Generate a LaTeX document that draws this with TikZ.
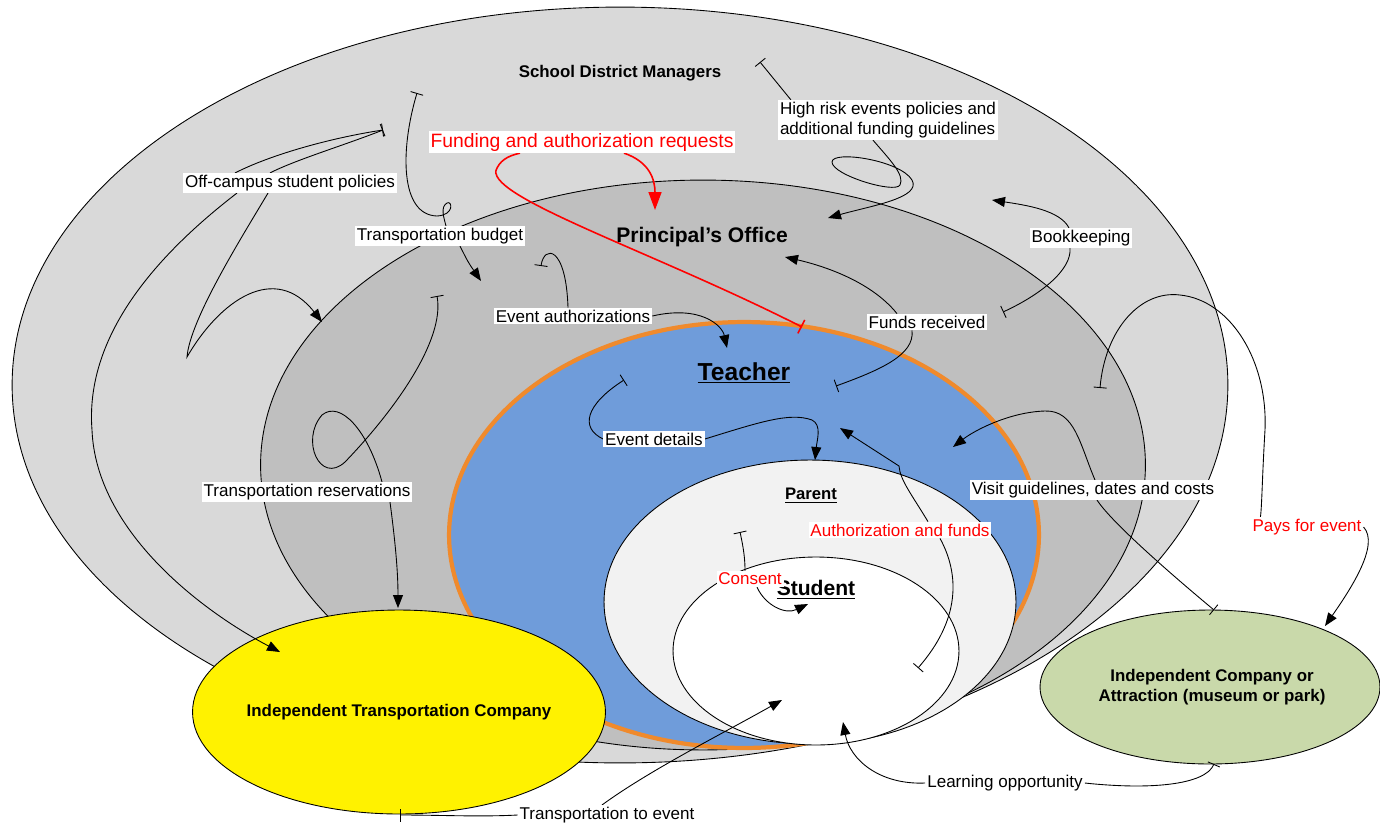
\documentclass[tikz,border=0pt]{standalone}
\usepackage{fontspec}
\setmainfont{Liberation Sans}
\usetikzlibrary{arrows.meta,positioning,calc,shapes.geometric}
\definecolor{distgray}{HTML}{D9D9D9}
\definecolor{pringray}{HTML}{BFBFBF}
\definecolor{teachblue}{HTML}{6F9CDA}
\definecolor{teachline}{HTML}{F08A2C}
\definecolor{parentgray}{HTML}{F2F2F2}
\definecolor{attrgreen}{HTML}{C9D9AA}
\pgfdeclarelayer{zones}
\pgfdeclarelayer{links}
\pgfsetlayers{zones,links,main}
\tikzset{
  zone/.style={ellipse, draw, line width=0.5pt, inner sep=0pt},
  title/.style={font=\bfseries\fontsize{9.6}{11.5}\selectfont, align=center, inner sep=1pt},
  lbl/.style={fill=white, inner sep=1pt, font=\fontsize{9.7}{11.5}\selectfont, align=left},
  redlbl/.style={lbl, text=red},
  tailln/.style={line width=0.5pt, {Bar[width=2.6mm]}-},
  headln/.style={line width=0.5pt, -{Triangle[length=2.6mm,width=2mm]}},
  redtail/.style={red, line width=0.9pt, {Bar[width=3mm]}-},
  redhead/.style={red, line width=0.9pt, -{Triangle[length=3.6mm,width=2.6mm]}}}
\begin{document}
\begin{tikzpicture}[x=0.02cm, y=-0.02cm]
  \useasboundingbox (0,0) rectangle (1380,826);
  \begin{pgfonlayer}{zones}
    \node[zone, fill=distgray, minimum width=24.32cm, minimum height=15.12cm] (district) at (620,385) {};
    \node[zone, fill=pringray, minimum width=17.7cm, minimum height=11.4cm] (office) at (703,465) {};
    \node[zone, draw=teachline, line width=2.4pt, fill=teachblue, minimum width=11.8cm, minimum height=8.52cm] (teacher) at (744,535) {};
    \node[zone, fill=parentgray, minimum width=8.24cm, minimum height=5.68cm] (parent) at (810,602) {};
    \node[zone, fill=white, minimum width=5.72cm, minimum height=3.76cm] (student) at (816,651) {};
    \node[zone, fill=yellow, minimum width=8.26cm, minimum height=4.08cm] (bus) at (399,712) {};
    \node[zone, fill=attrgreen, minimum width=6.8cm, minimum height=3.08cm] (venue) at (1210,687) {};
  \end{pgfonlayer}

  \node[title] (tdistrict) at (620,73) {School District Managers};
  \node[title, font=\bfseries\fontsize{12}{14}\selectfont] (toffice) at (702,237) {Principal’s Office};
  \node[title, font=\bfseries\fontsize{14}{16}\selectfont] (tteacher) at (744,373) {\underline{Teacher}};
  \node[title, font=\bfseries\fontsize{9.5}{11}\selectfont] (tparent) at (811,496) {\underline{Parent}};
  \node[title, font=\bfseries\fontsize{12}{14}\selectfont] (tstudent) at (816,590) {\underline{Student}};
  \node[title] (tbus) at (399,712) {Independent Transportation Company};
  \node[title] (tvenue) at (1212,687) {Independent Company or\\Attraction (museum or park)};

  \node[redlbl, font=\fontsize{11}{13}\selectfont] (lblfund) at (582,142) {Funding and authorization requests};
  \node[lbl] (lblrisk) at (888,120) {High risk events policies and\\additional funding guidelines};
  \node[lbl] (lbloff) at (290,183) {Off-campus student policies};
  \node[lbl] (lbltbud) at (440,236) {Transportation budget};
  \node[lbl] (lblbook) at (1081,238) {Bookkeeping};
  \node[lbl] (lblauth) at (573,316) {Event authorizations};
  \node[lbl] (lblfrec) at (927,322) {Funds received};
  \node[lbl] (lbldet) at (654,439) {Event details};
  \node[lbl] (lblres) at (307,492) {Transportation reservations};
  \node[lbl] (lblvisit) at (1093,490) {Visit guidelines, dates and costs};
  \node[redlbl] (lblaf) at (900,530) {Authorization and funds};
  \node[redlbl] (lblpays) at (1307,527) {Pays for event};
  \node[redlbl] (lblcons) at (750,579) {Consent};
  \node[lbl] (lbllearn) at (1005,783) {Learning opportunity};
  \node[lbl] (lbltrans) at (607,815) {Transportation to event};

  \coordinate (riskS) at (760,62);   \coordinate (riskE) at (828,218);
  \coordinate (offS) at (383,130);   \coordinate (offE) at (280,652);  \coordinate (offE2) at (322,322);
  \coordinate (budS) at (417,93);    \coordinate (budE) at (481,281);
  \coordinate (resS) at (437,296);   \coordinate (resE) at (398,608);
  \coordinate (authS) at (541,266);  \coordinate (authE) at (727,348);
  \coordinate (fundS) at (802,327);  \coordinate (fundE) at (655,210);
  \coordinate (frecS) at (836,386);  \coordinate (frecE) at (785,257);
  \coordinate (bookS) at (1003,312); \coordinate (bookE) at (992,200);
  \coordinate (detS) at (624,380);   \coordinate (detE) at (815,460);
  \coordinate (afS) at (918,668);    \coordinate (afE) at (840,428);
  \coordinate (visS) at (1214,610);  \coordinate (visE) at (953,447);
  \coordinate (payS) at (1100,388);  \coordinate (payE) at (1325,626);
  \coordinate (learnS) at (1214,764); \coordinate (learnE) at (843,722);
  \coordinate (trS) at (400,815);    \coordinate (trE) at (782,700);
  \coordinate (conS) at (740,532);   \coordinate (conE) at (808,604);

  \begin{pgfonlayer}{links}
    \draw[tailln] (riskS) -- ($(lblrisk.north west)+(13,0)$);
    \draw[headln] ($(lblrisk.south)+(-15,0)$) .. controls (890,160) and (905,175) .. (900,185)
      .. controls (895,194) and (832,175) .. (832,162) .. controls (832,150) and (900,160) .. (912,180)
      .. controls (922,198) and (870,206) .. (riskE);
    \draw[tailln] (offS) .. controls (330,138) and (270,155) .. ($(lbloff.north)+(-55,0)$);
    \draw[tailln] (offS) .. controls (345,145) and (295,160) .. ($(lbloff.north)+(-20,0)$);
    \draw[headln] ($(lbloff.south)+(-53,0)$) .. controls (150,260) and (85,340) .. (92,430)
      .. controls (96,530) and (200,610) .. (offE);
    \draw[headln] ($(lbloff.south)+(-22,0)$) .. controls (240,240) and (190,320) .. (187,357)
      .. controls (220,300) and (275,262) .. (offE2);
    \draw[tailln] (budS) .. controls (400,150) and (400,215) .. (437,216)
      .. controls (455,215) and (452,200) .. (447,203) .. controls (440,207) and (444,218) .. ($(lbltbud.north)+(6,0)$);
    \draw[headln] ($(lbltbud.south)+(20,0)$) .. controls (468,262) .. (budE);
    \draw[tailln] (resS) .. controls (445,340) and (395,410) .. (345,462)
      .. controls (320,485) and (300,440) .. (322,415) .. controls (340,400) and (368,430) .. ($(lblres.north)+(75,0)$);
    \draw[headln] ($(lblres.south)+(83,0)$) .. controls (395,540) and (398,570) .. (resE);
    \draw[tailln] (authS) .. controls (544,245) and (566,245) .. ($(lblauth.north)+(-5,0)$);
    \draw[headln] (lblauth.east) .. controls (700,305) and (722,325) .. (authE);
    \draw[redtail] (fundS) .. controls (650,250) and (480,195) .. (497,168)
      .. controls (502,158) and (512,155) .. ($(lblfund.south)+(-62,0)$);
    \draw[redhead] ($(lblfund.south)+(42,0)$) .. controls (650,162) and (655,180) .. (fundE);
    \draw[tailln] (frecS) .. controls (880,370) and (915,355) .. ($(lblfrec.south)+(-15,0)$);
    \draw[headln] ($(lblfrec.north)+(-30,0)$) .. controls (870,280) and (820,265) .. (frecE);
    \draw[tailln] (bookS) .. controls (1040,295) and (1072,270) .. ($(lblbook.south)+(-11,0)$);
    \draw[headln] ($(lblbook.north)+(-12,0)$) .. controls (1060,210) and (1025,205) .. (bookE);
    \draw[tailln] (detS) .. controls (585,405) and (580,428) .. (lbldet.west);
    \draw[headln] (lbldet.east) .. controls (760,422) and (790,412) .. (812,420)
      .. controls (822,425) and (817,440) .. (detE);
    \draw[tailln] (afS) .. controls (960,620) and (960,575) .. ($(lblaf.south)+(40,0)$);
    \draw[headln] ($(lblaf.north)+(28,0)$) .. controls (912,495) and (900,480) .. (899,466) -- (afE);
    \draw[tailln] (visS) .. controls (1160,565) and (1110,520) .. ($(lblvisit.south)+(4,0)$);
    \draw[headln] ($(lblvisit.north)+(2,0)$) .. controls (1080,445) and (1075,410) .. (1045,411)
      .. controls (1010,412) and (975,430) .. (visE);
    \draw[tailln] (payS) .. controls (1105,330) and (1140,290) .. (1180,295)
      .. controls (1230,300) and (1268,360) .. (1265,430) .. controls (1262,480) and (1262,505) .. ($(lblpays.north west)+(10,0)$);
    \draw[headln] (lblpays.east) .. controls (1380,545) and (1350,590) .. (payE);
    \draw[tailln] (learnS) .. controls (1205,785) and (1150,790) .. (lbllearn.east);
    \draw[headln] (lbllearn.west) .. controls (880,785) and (850,760) .. (learnE);
    \draw[tailln] (trS) .. controls (440,815) and (480,817) .. (lbltrans.west);
    \draw[headln] ($(lbltrans.north)+(-5,0)$) .. controls (650,770) and (720,735) .. (trE);
    \draw[tailln] (conS) .. controls (744,550) and (745,560) .. ($(lblcons.north)+(-5,0)$);
    \draw[headln] ($(lblcons.south)+(7,0)$) .. controls (765,605) and (785,615) .. (conE);
  \end{pgfonlayer}
\end{tikzpicture}
\end{document}
